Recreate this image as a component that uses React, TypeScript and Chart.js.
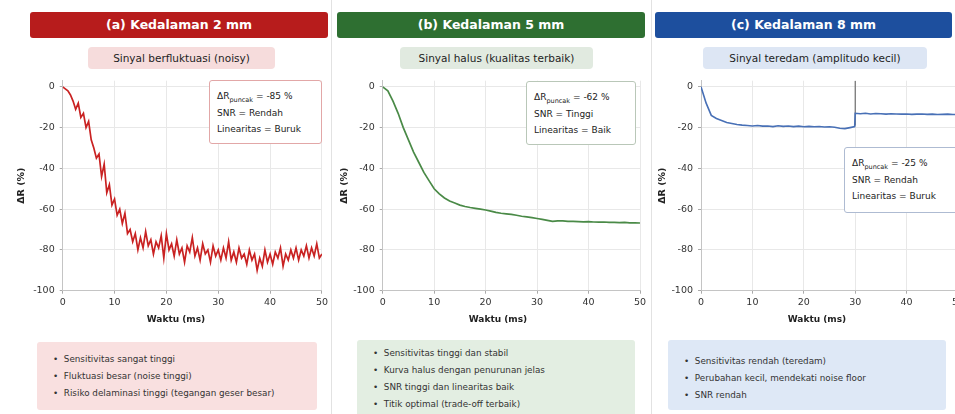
import React, { useEffect, useRef } from 'react';
import { Chart, registerables } from 'chart.js';

Chart.register(...registerables);

const FONT = '"DejaVu Sans", Verdana, sans-serif';

// ---------- data ----------
const xTicks = [0, 10, 20, 30, 40, 50];
const yTicks = [0, -20, -40, -60, -80, -100];

const timesA = [
  0, 0.5, 1, 1.5, 2, 2.5, 3, 3.5, 4, 4.5,
  5, 5.5, 6, 6.5, 7, 7.5, 8, 8.5, 9, 9.5,
  10, 10.5, 11, 11.5, 12, 12.5, 13, 13.5, 14, 14.5,
  15, 15.5, 16, 16.5, 17, 17.5, 18, 18.5, 19, 19.5,
  20, 20.5, 21, 21.5, 22, 22.5, 23, 23.5, 24, 24.5,
  25, 25.5, 26, 26.5, 27, 27.5, 28, 28.5, 29, 29.5,
  30, 30.5, 31, 31.5, 32, 32.5, 33, 33.5, 34, 34.5,
  35, 35.5, 36, 36.5, 37, 37.5, 38, 38.5, 39, 39.5,
  40, 40.5, 41, 41.5, 42, 42.5, 43, 43.5, 44, 44.5,
  45, 45.5, 46, 46.5, 47, 47.5, 48, 48.5, 49, 49.5,
  50,
];
const valuesA = [
  0, -1, -2, -4, -7, -11, -8, -15, -13, -20,
  -17, -26, -30, -35, -33, -44, -38, -52, -48, -58,
  -55, -63, -60, -67, -62, -72, -70, -76, -72, -80,
  -74, -79, -71, -78, -75, -82, -76, -79, -73, -84,
  -72, -80, -77, -83, -75, -82, -79, -86, -78, -81,
  -74, -83, -79, -85, -77, -82, -80, -86, -78, -83,
  -80, -85, -79, -84, -76, -85, -81, -86, -79, -84,
  -82, -87, -80, -85, -82, -90, -84, -88, -80, -86,
  -82, -87, -81, -84, -79, -88, -82, -85, -80, -84,
  -79, -85, -80, -83, -78, -84, -79, -83, -77, -84,
  -82,
];

const timesB = [
  0, 1, 2, 3, 4, 5, 6, 7, 8, 9,
  10, 11, 12, 13, 14, 15, 16, 17, 18, 19,
  20, 21, 22, 23, 24, 25, 26, 27, 28, 29,
  30, 31, 32, 33, 34, 35, 36, 37, 38, 39,
  40, 41, 42, 43, 44, 45, 46, 47, 48, 49,
  50,
];
const valuesB = [
  0, -2, -7, -13, -20, -26, -32, -37, -42, -46,
  -50, -52.5, -54.5, -56, -57, -58, -58.7, -59.2, -59.6, -60,
  -60.4, -61, -61.6, -62, -62.3, -62.6, -63, -63.5, -63.8, -64.2,
  -64.6, -65, -65.5, -66, -65.8, -65.8, -66, -66, -66.1, -66.2,
  -66.1, -66.3, -66.4, -66.3, -66.5, -66.5, -66.6, -66.5, -66.7, -66.7,
  -66.8,
];

const timesC = [
  0, 1, 2, 3, 4, 5, 6, 7, 8, 9,
  10, 11, 12, 13, 14, 15, 16, 17, 18, 19,
  20, 21, 22, 23, 24, 25, 26, 27, 28, 29, 29.9,
  30, 31, 32, 33, 34, 35, 36, 37, 38, 39,
  40, 41, 42, 43, 44, 45, 46, 47, 48, 49,
  50,
];
const valuesC = [
  0, -8, -14, -15.5, -16.5, -17.5, -18, -18.5, -18.8, -19,
  -19.2, -19, -19.3, -19.2, -19.5, -19.1, -19.4, -19.2, -19.5, -19.3,
  -19.6, -19.4, -19.6, -19.5, -19.7, -19.6, -19.8, -20.3, -20.5, -20, -19.5,
  -13, -13.2, -13, -13.3, -13.1, -13.2, -13.4, -13.2, -13.3, -13.4,
  -13.3, -13.5, -13.4, -13.3, -13.5, -13.4, -13.6, -13.5, -13.4, -13.6,
  -13.6,
];
const markerTimesC = [30, 30];
const markerValuesC = [-19, 3];

const headers = ['(a) Kedalaman 2 mm', '(b) Kedalaman 5 mm', '(c) Kedalaman 8 mm'];
const subtitles = [
  'Sinyal berfluktuasi (noisy)',
  'Sinyal halus (kualitas terbaik)',
  'Sinyal teredam (amplitudo kecil)',
];
const peakValues = ['-85 %', '-62 %', '-25 %'];
const snrValues = ['Rendah', 'Tinggi', 'Rendah'];
const linearityValues = ['Buruk', 'Baik', 'Buruk'];
const bulletsA = [
  'Sensitivitas sangat tinggi',
  'Fluktuasi besar (noise tinggi)',
  'Risiko delaminasi tinggi (tegangan geser besar)',
];
const bulletsB = [
  'Sensitivitas tinggi dan stabil',
  'Kurva halus dengan penurunan jelas',
  'SNR tinggi dan linearitas baik',
  'Titik optimal (trade-off terbaik)',
];
const bulletsC = [
  'Sensitivitas rendah (teredam)',
  'Perubahan kecil, mendekati noise floor',
  'SNR rendah',
];
const xTitle = 'Waktu (ms)';
const yTitle = 'ΔR (%)';

// ---------- layout / style ----------
const panels = [
  {
    header: headers[0], subtitle: subtitles[0], peak: peakValues[0], snr: snrValues[0], lin: linearityValues[0],
    bullets: bulletsA, times: timesA, values: valuesA, lineColor: '#c92222', lineWidth: 1.7,
    headerBg: '#b71c1c', badgeBg: '#f6dcdc', noteBorder: '#e2a7a7', boxBg: '#f9e0e0',
    headerBox: [30, 12, 298, 26], badgeBox: [88, 47, 187, 22],
    canvas: { left: 0, width: 331, areaLeft: 62.7, areaRight: 323, yTitlePad: 16 },
    note: [209, 80, 113, 64], xTitleCenter: 176, bulletBox: [37, 342, 280, 68], bulletTop: 351,
    extra: null,
  },
  {
    header: headers[1], subtitle: subtitles[1], peak: peakValues[1], snr: snrValues[1], lin: linearityValues[1],
    bullets: bulletsB, times: timesB, values: valuesB, lineColor: '#4a8a47', lineWidth: 1.7,
    headerBg: '#2e6f31', badgeBg: '#e1eae0', noteBorder: '#b9c7b8', boxBg: '#e3eee2',
    headerBox: [337, 12, 308, 26], badgeBox: [400, 47, 193, 22],
    canvas: { left: 332, width: 320, areaLeft: 50.7, areaRight: 308, yTitlePad: 7 },
    note: [526, 81, 110, 64], xTitleCenter: 498, bulletBox: [357, 340, 278, 76], bulletTop: 345,
    extra: null,
  },
  {
    header: headers[2], subtitle: subtitles[2], peak: peakValues[2], snr: snrValues[2], lin: linearityValues[2],
    bullets: bulletsC, times: timesC, values: valuesC, lineColor: '#4870b6', lineWidth: 1.6,
    headerBg: '#1d4f9e', badgeBg: '#dde6f4', noteBorder: '#aebbd2', boxBg: '#dee8f6',
    headerBox: [655, 12, 297, 26], badgeBox: [703, 47, 224, 22],
    canvas: { left: 652, width: 320, areaLeft: 49, areaRight: 306, yTitlePad: 5 },
    note: [844, 147, 114, 66], xTitleCenter: 817, bulletBox: [668, 340, 278, 70], bulletTop: 353,
    extra: { times: markerTimesC, values: markerValuesC, color: '#555', width: 1 },
  },
];

const CANVAS_TOP = 70;
const CANVAS_H = 245;
const AREA_TOP = 77.3 - CANVAS_TOP;
const AREA_BOTTOM = 290.7 - CANVAS_TOP;
const X_AXIS_H = 22;

function toPoints(times: number[], values: number[]) {
  return times.map((t, i) => ({ x: t, y: values[i] }));
}

function PanelChart({ p }: { p: any }) {
  const ref = useRef<HTMLCanvasElement | null>(null);
  useEffect(() => {
    if (!ref.current) return;
    const c = p.canvas;
    const datasets: any[] = [
      {
        data: toPoints(p.times, p.values),
        borderColor: p.lineColor,
        borderWidth: p.lineWidth,
        pointRadius: 0,
        tension: 0,
        fill: false,
      },
    ];
    if (p.extra) {
      datasets.push({
        data: toPoints(p.extra.times, p.extra.values),
        borderColor: p.extra.color,
        borderWidth: p.extra.width,
        pointRadius: 0,
        tension: 0,
        fill: false,
      });
    }
    const chart = new Chart(ref.current, {
      type: 'line',
      data: { datasets },
      options: {
        animation: false,
        responsive: false,
        maintainAspectRatio: false,
        layout: {
          padding: {
            left: 0,
            right: c.width - c.areaRight,
            top: AREA_TOP,
            bottom: CANVAS_H - AREA_BOTTOM - X_AXIS_H,
          },
        },
        plugins: { legend: { display: false }, tooltip: { enabled: false } },
        scales: {
          x: {
            type: 'linear',
            min: 0,
            max: 50,
            afterBuildTicks: (s: any) => {
              s.ticks = xTicks.map((v) => ({ value: v }));
            },
            afterFit: (s: any) => {
              s.height = X_AXIS_H;
            },
            grid: { color: '#e8e8e8', tickLength: 3, tickColor: '#aaa' },
            border: { color: '#c4c4c4' },
            ticks: { font: { family: FONT, size: 9.5 }, color: '#333', padding: 3, maxRotation: 0 },
          },
          y: {
            type: 'linear',
            min: -100,
            max: 3,
            afterBuildTicks: (s: any) => {
              s.ticks = yTicks.map((v) => ({ value: v }));
            },
            afterFit: (s: any) => {
              s.width = c.areaLeft;
            },
            grid: { color: '#e8e8e8', tickLength: 3, tickColor: '#aaa' },
            border: { color: '#c4c4c4' },
            ticks: { font: { family: FONT, size: 9.5 }, color: '#333', padding: 5 },
            title: {
              display: true,
              text: yTitle,
              font: { family: FONT, size: 9.5, weight: 'bold' },
              color: '#222',
              padding: { top: c.yTitlePad, bottom: 0 },
            },
          },
        },
      } as any,
    });
    return () => chart.destroy();
  }, [p]);
  const c = p.canvas;
  return (
    <canvas
      ref={ref}
      width={c.width}
      height={CANVAS_H}
      style={{ position: 'absolute', left: c.left, top: CANVAS_TOP, width: c.width, height: CANVAS_H }}
    />
  );
}

function Panel({ p }: { p: any }) {
  const [hx, hy, hw, hh] = p.headerBox;
  const [bx, by, bw, bh] = p.badgeBox;
  const [nx, ny, nw, nh] = p.note;
  const [ux, uy, uw, uh] = p.bulletBox;
  const noteLine: React.CSSProperties = { height: 16.5, lineHeight: '16.5px', whiteSpace: 'nowrap' };
  return (
    <>
      <div
        style={{
          position: 'absolute', left: hx, top: hy, width: hw, height: hh, background: p.headerBg,
          borderRadius: 3, color: '#fff', fontWeight: 'bold', fontSize: 12.5, lineHeight: hh + 'px',
          textAlign: 'center', whiteSpace: 'nowrap',
        }}
      >
        {p.header}
      </div>
      <div
        style={{
          position: 'absolute', left: bx, top: by, width: bw, height: bh, background: p.badgeBg,
          borderRadius: 4, color: '#1e1e1e', fontSize: 10.5, lineHeight: bh + 'px', textAlign: 'center',
          whiteSpace: 'nowrap',
        }}
      >
        {p.subtitle}
      </div>
      <PanelChart p={p} />
      <div
        style={{
          position: 'absolute', left: nx, top: ny, width: nw, height: nh, boxSizing: 'border-box',
          background: '#fff', border: '1px solid ' + p.noteBorder, borderRadius: 3, fontSize: 9,
          color: '#222', padding: '7px 0 0 7px',
        }}
      >
        <div style={noteLine}>
          ΔR<sub style={{ fontSize: 6.5 }}>puncak</sub> = {p.peak}
        </div>
        <div style={noteLine}>SNR = {p.snr}</div>
        <div style={noteLine}>Linearitas = {p.lin}</div>
      </div>
      <div
        style={{
          position: 'absolute', left: p.xTitleCenter - 60, top: 313, width: 120, textAlign: 'center',
          fontSize: 9, fontWeight: 'bold', color: '#222', lineHeight: '12px',
        }}
      >
        {xTitle}
      </div>
      <div
        style={{
          position: 'absolute', left: ux, top: uy, width: uw, height: uh, background: p.boxBg,
          borderRadius: 3,
        }}
      />
      <div style={{ position: 'absolute', left: ux + 16, top: p.bulletTop, fontSize: 8.8, color: '#333' }}>
        {p.bullets.map((b: string, i: number) => (
          <div key={i} style={{ height: 17, lineHeight: '17px', whiteSpace: 'nowrap' }}>
            •&nbsp;&nbsp;{b}
          </div>
        ))}
      </div>
    </>
  );
}

export default function App() {
  useEffect(() => {
    document.body.style.margin = '0';
  }, []);
  return (
    <div
      style={{
        position: 'relative', width: 955, height: 414, overflow: 'hidden', background: '#fff',
        fontFamily: FONT,
      }}
    >
      <div style={{ position: 'absolute', left: 331, top: 0, width: 1, height: 414, background: '#e2e2e2' }} />
      <div style={{ position: 'absolute', left: 651, top: 0, width: 1, height: 414, background: '#e2e2e2' }} />
      {panels.map((p, i) => (
        <Panel key={i} p={p} />
      ))}
    </div>
  );
}
